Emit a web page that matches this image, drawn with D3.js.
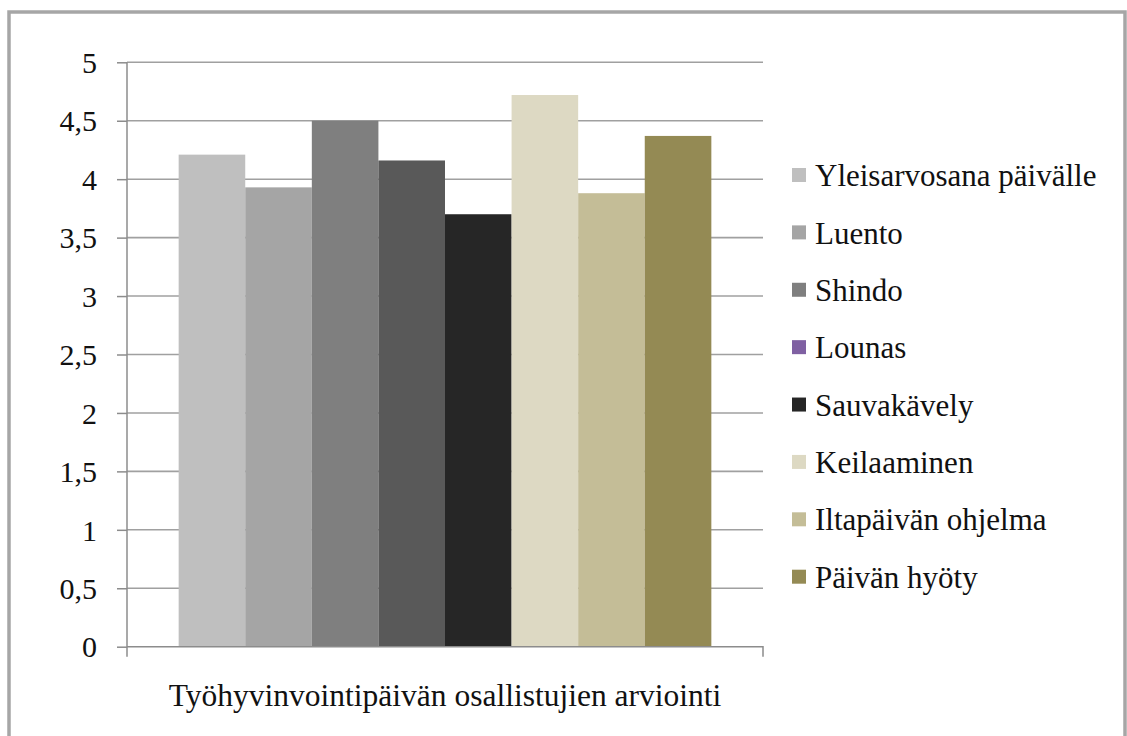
<!DOCTYPE html>
<html><head><meta charset="utf-8">
<script src="https://cdn.jsdelivr.net/npm/d3@7"></script>
<style>html,body{margin:0;padding:0;background:#fff;}svg{display:block;}</style>
</head><body>
<svg id="chart" width="1127" height="736"></svg>
<script>
const category = ["Työhyvinvointipäivän osallistujien arviointi"];
const seriesNames = ["Yleisarvosana päivälle","Luento","Shindo","Lounas","Sauvakävely","Keilaaminen","Iltapäivän ohjelma","Päivän hyöty"];
const seriesValues = [4.21, 3.93, 4.50, 4.16, 3.70, 4.72, 3.88, 4.37];
const barColors = ["#bfbfbf","#a5a5a5","#7f7f7f","#595959","#262626","#ddd9c3","#c4bd97","#948a54"];
const legendColors = ["#bfbfbf","#a5a5a5","#7f7f7f","#7f60a2","#262626","#ddd9c3","#c4bd97","#948a54"];
const yTicks = [0,0.5,1,1.5,2,2.5,3,3.5,4,4.5,5];
const yTickLabels = ["0","0,5","1","1,5","2","2,5","3","3,5","4","4,5","5"];

(function(){
const svg = d3.select("#chart");
const font = "'Liberation Serif','Times New Roman',serif";

// frame
svg.append("path").attr("d","M9,740 V12 H1125 V740").attr("fill","none").attr("stroke","#a6a6a6").attr("stroke-width",3.5);

const pLeft = 127, pRight = 763, pTop = 62.3, pBottom = 646.7;
const y = d3.scaleLinear().domain([0,5]).range([pBottom, pTop]);
const x0 = d3.scaleBand().domain(category).range([pLeft,pRight]).padding(0.0884);
const x1 = d3.scaleBand().domain(seriesNames).range([0, x0.bandwidth()]).padding(0);

// gridlines
svg.append("g").selectAll("line").data(yTicks.filter(d=>d>0)).join("line")
  .attr("x1",pLeft).attr("x2",pRight).attr("y1",d=>y(d)).attr("y2",d=>y(d))
  .attr("stroke","#a0a0a0").attr("stroke-width",1.6);

// bars
const g = svg.append("g").attr("transform",`translate(${x0(category[0])},0)`);
g.selectAll("rect").data(seriesValues).join("rect")
  .attr("x",(d,i)=>x1(seriesNames[i]))
  .attr("width",x1.bandwidth())
  .attr("y",d=>y(d))
  .attr("height",d=>y(0)-y(d))
  .attr("fill",(d,i)=>barColors[i]);

// y axis
const yAxis = d3.axisLeft(y).tickValues(yTicks).tickFormat((d,i)=>yTickLabels[i]).tickSize(10).tickPadding(20);
const ya = svg.append("g").attr("transform",`translate(${pLeft},0)`).call(yAxis);
ya.select(".domain").attr("stroke","#8c8c8c").attr("stroke-width",1.5).attr("d",`M0,${pTop}V${pBottom+10}`);
ya.selectAll(".tick line").attr("stroke","#8c8c8c").attr("stroke-width",1.5);
ya.selectAll(".tick text").attr("font-family",font).attr("font-size",30).attr("fill","#111").attr("dy","0.34em");

// x axis
const xAxis = d3.axisBottom(x0).tickSize(0).tickFormat("");
const xa = svg.append("g").attr("transform",`translate(0,${pBottom})`).call(xAxis);
xa.select(".domain").attr("stroke","#8c8c8c").attr("stroke-width",1.5).attr("d",`M${pLeft},0H${pRight}V10`);
svg.append("text").attr("x",x0(category[0])+x0.bandwidth()/2).attr("y",706)
  .attr("text-anchor","middle").attr("font-family",font).attr("font-size",31.5).attr("fill","#111")
  .text(category[0]);

// legend
const lg = svg.append("g");
const rowY = d3.scalePoint().domain(seriesNames).range([175,576.7]);
seriesNames.forEach((n,i)=>{
  lg.append("rect").attr("x",792).attr("y",rowY(n)-7).attr("width",14).attr("height",14).attr("fill",legendColors[i]);
  lg.append("text").attr("x",815).attr("y",rowY(n)).attr("dy","0.36em")
    .attr("font-family",font).attr("font-size",31).attr("fill","#111").text(n);
});
})();
</script>
</body></html>
